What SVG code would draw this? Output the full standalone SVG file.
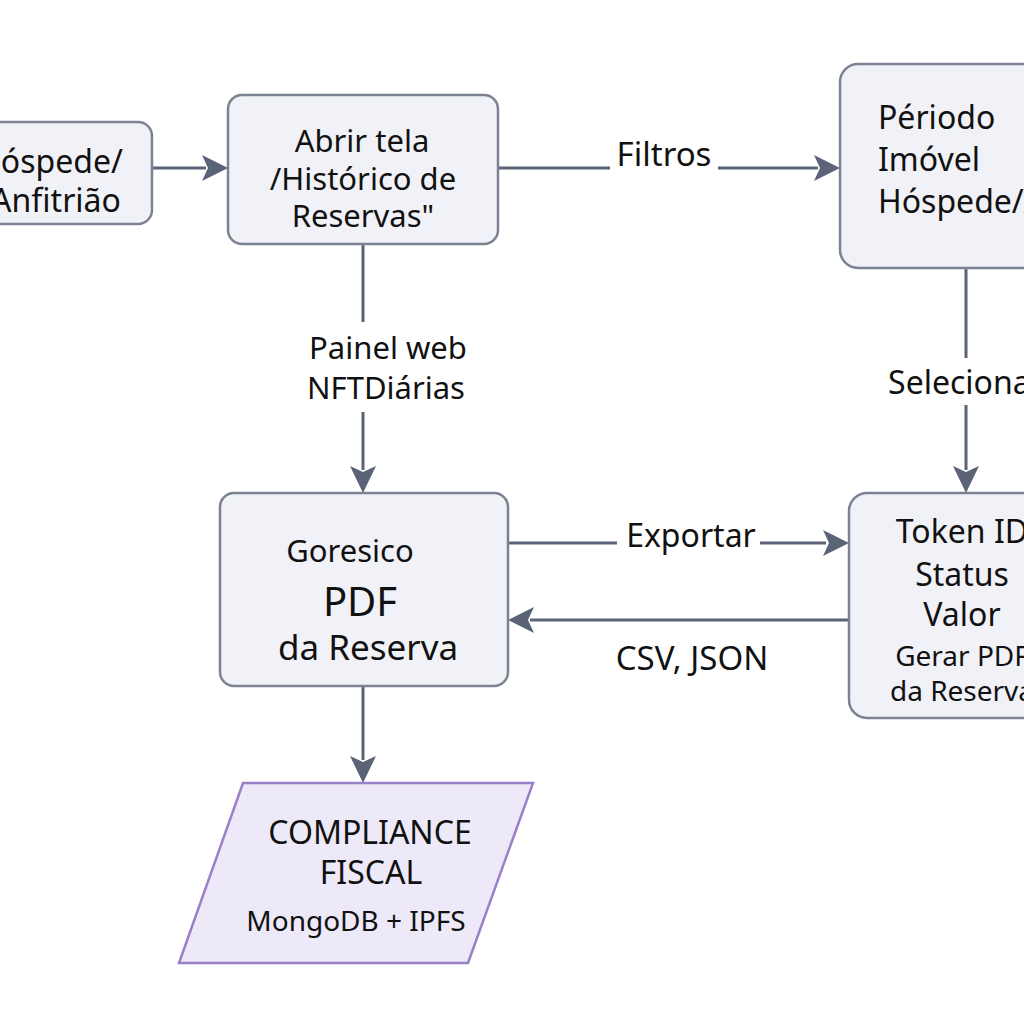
<svg xmlns="http://www.w3.org/2000/svg" width="1024" height="1024" viewBox="0 0 1024 1024">
<defs>
<style>
.node{fill:#f1f2f7;stroke:#7b8292;stroke-width:2.5}
.para{fill:#ede9f8;stroke:#9a80c6;stroke-width:2.5}
.conn{stroke:#5b6377;stroke-width:3;fill:none}
.head{fill:#5b6377}
text{font-family:"Noto Sans","Open Sans","DejaVu Sans",sans-serif;fill:#111;dominant-baseline:central}
.c{text-anchor:middle}
.t31{font-size:31px}
.t32{font-size:32px}
.t33{font-size:33px}
.t28{font-size:28px}
</style>
</defs>
<rect width="1024" height="1024" fill="#ffffff"/>
<g id="connectors">
<line class="conn" x1="152" y1="168" x2="206" y2="168"/>
<polygon class="head" points="202,155 228,168 202,181 208,168"/>
<line class="conn" x1="498" y1="168" x2="610" y2="168"/>
<line class="conn" x1="718" y1="168" x2="818" y2="168"/>
<polygon class="head" points="814,155 840,168 814,181 820,168"/>
<text class="c t33" x="664" y="153">Filtros</text>
<line class="conn" x1="363" y1="244" x2="363" y2="322"/>
<line class="conn" x1="363" y1="412" x2="363" y2="470"/>
<polygon class="head" points="350,466 363,493 376,466 363,472"/>
<text class="c t31" x="388" y="347">Painel web</text>
<text class="c t31" x="386" y="387">NFTDiárias</text>
<line class="conn" x1="966" y1="268" x2="966" y2="358"/>
<line class="conn" x1="966" y1="405" x2="966" y2="470"/>
<polygon class="head" points="953,466 966,493 979,466 966,472"/>
<text class="c t32" x="966" y="381">Selecionar</text>
<line class="conn" x1="508" y1="543" x2="617" y2="543"/>
<line class="conn" x1="760" y1="543" x2="826" y2="543"/>
<polygon class="head" points="823,530 849,543 823,556 829,543"/>
<text class="c t32" x="691" y="534">Exportar</text>
<line class="conn" x1="849" y1="620" x2="530" y2="620"/>
<polygon class="head" points="534,607 508,620 534,633 528,620"/>
<text class="c t33" x="692" y="657">CSV, JSON</text>
<line class="conn" x1="363" y1="686" x2="363" y2="760"/>
<polygon class="head" points="350,756 363,783 376,756 363,762"/>
</g>
<g id="node-hospede">
<rect class="node" x="-50" y="122" width="202" height="102" rx="14"/>
<text class="c t32" x="50" y="160">Hóspede/</text>
<text class="c t32" x="56" y="199">Anfitrião</text>
</g>
<g id="node-abrir">
<rect class="node" x="228" y="95" width="270" height="149" rx="14"/>
<text class="c t31" x="362" y="140">Abrir tela</text>
<text class="c t31" x="363" y="178">/Histórico de</text>
<text class="c t31" x="363" y="215">Reservas"</text>
</g>
<g id="node-filtros">
<rect class="node" x="840" y="64" width="220" height="204" rx="18"/>
<text class="t32" x="878" y="116">Périodo</text>
<text class="t32" x="878" y="158">Imóvel</text>
<text class="t32" x="878" y="200">Hóspede/Anfitrião</text>
</g>
<g id="node-pdf">
<rect class="node" x="220" y="493" width="288" height="193" rx="14"/>
<text class="c t31" x="350" y="550">Goresico</text>
<text class="c" font-size="40" x="360" y="600">PDF</text>
<text class="c" font-size="35" x="368" y="646">da Reserva</text>
</g>
<g id="node-token">
<rect class="node" x="849" y="493" width="200" height="225" rx="18"/>
<text class="c t32" x="962" y="530">Token ID</text>
<text class="c t32" x="962" y="573">Status</text>
<text class="c t32" x="962" y="613">Valor</text>
<text class="c t28" x="962" y="655">Gerar PDF</text>
<text class="c t28" x="962" y="690">da Reserva</text>
</g>
<g id="node-compliance">
<polygon class="para" points="243,783 533,783 468,963 179,963"/>
<text class="c t32" x="370" y="831">COMPLIANCE</text>
<text class="c t32" x="371" y="871">FISCAL</text>
<text class="c t28" x="356" y="920">MongoDB + IPFS</text>
</g>
</svg>
